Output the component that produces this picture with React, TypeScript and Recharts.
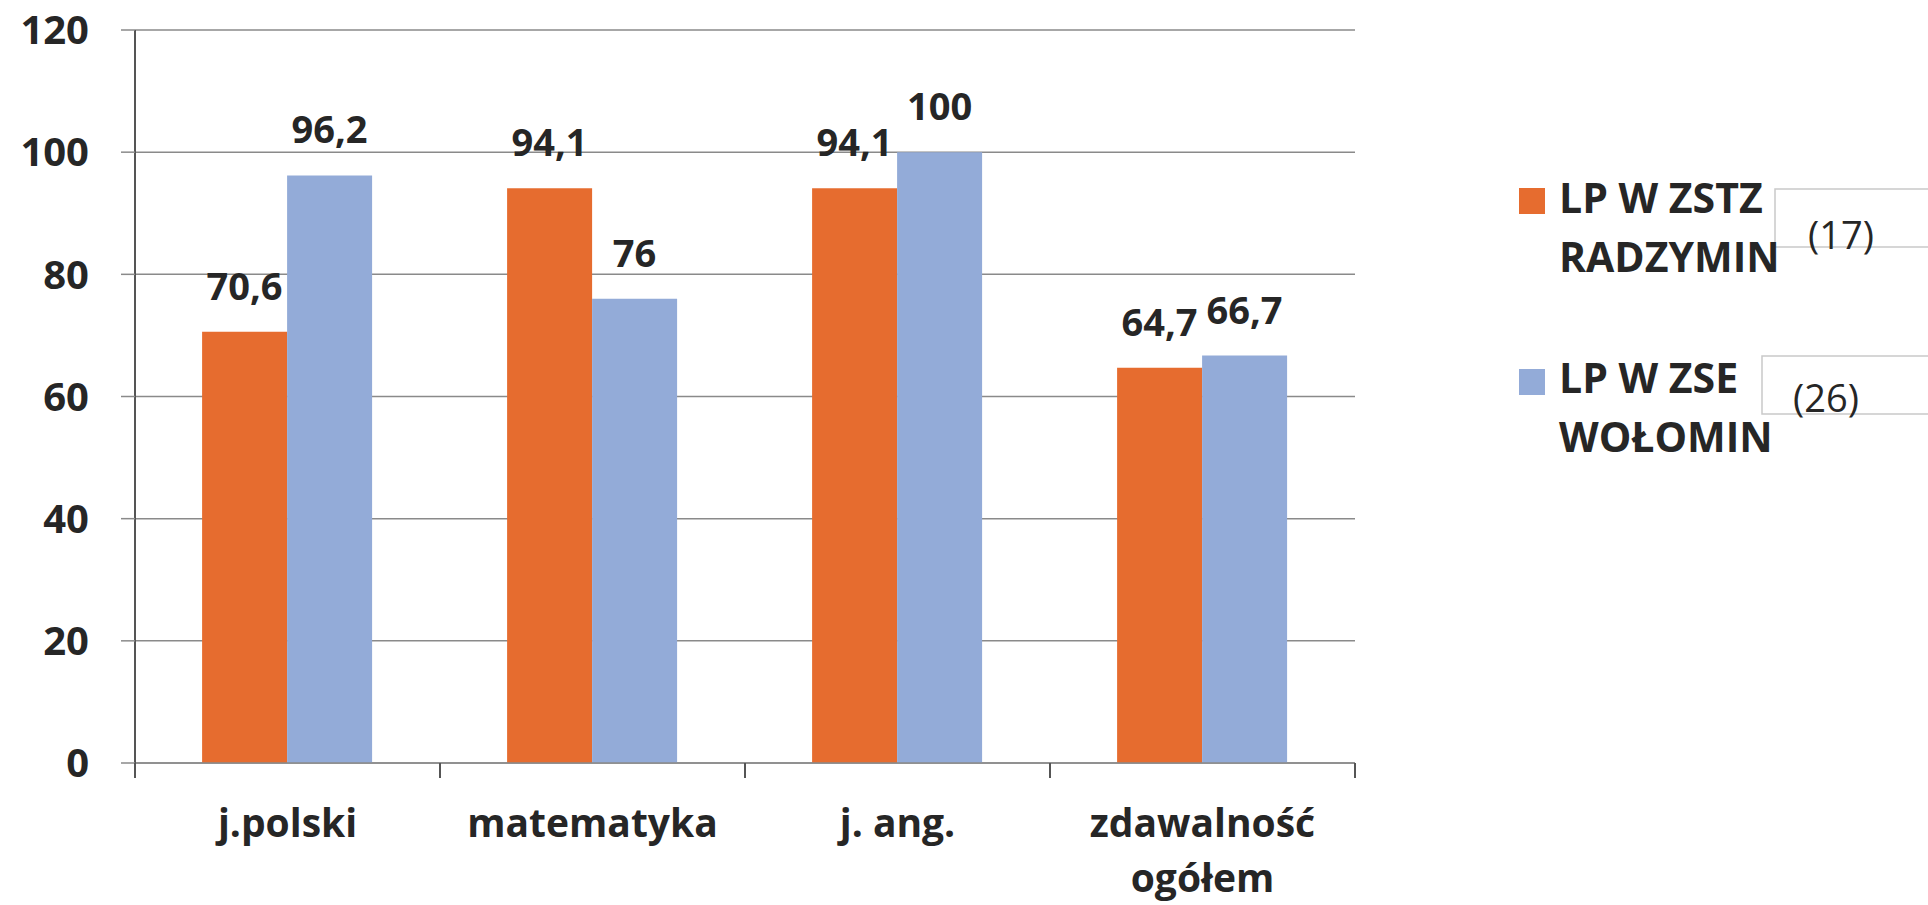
import { BarChart, Bar, XAxis, YAxis, CartesianGrid, LabelList, Legend } from 'recharts'

const CATEGORIES = ['j.polski', 'matematyka', 'j. ang.', 'zdawalność\nogółem']
const RADZYMIN = [70.6, 94.1, 94.1, 64.7]
const WOLOMIN = [96.2, 76, 100, 66.7]
const Y_TICKS = [0, 20, 40, 60, 80, 100, 120]
const SERIES_NAMES = ['LP W ZSTZ\nRADZYMIN', 'LP W ZSE\nWOŁOMIN']
const SERIES_COUNTS = ['(17)', '(26)']

const ORANGE = '#E66C2F'
const BLUE = '#93ABD8'
const TEXT = '#262626'
const FONT = '"Open Sans", sans-serif'

const data = CATEGORIES.map((c, i) => ({ name: c, radzymin: RADZYMIN[i], wolomin: WOLOMIN[i] }))

const fmt = (v: any) => String(v).replace('.', ',')

// category label + the boundary tick marks between categories
function CategoryTick({ x, y, payload, index, visibleTicksCount }: any) {
  const lines = String(payload.value).split('\n')
  const half = payload.offset || 152.5
  const last = index === (visibleTicksCount ?? CATEGORIES.length) - 1
  return (
    <g>
      <line x1={x - half} y1={y} x2={x - half} y2={y + 15} stroke="#555" strokeWidth={2} />
      {last && <line x1={x + half} y1={y} x2={x + half} y2={y + 15} stroke="#555" strokeWidth={2} />}
      <text x={x} y={y + 74} textAnchor="middle" fill={TEXT} fontSize={39} fontWeight={700} fontFamily={FONT}>
        {lines.map((l, i) => (
          <tspan key={i} x={x} dy={i === 0 ? 0 : 55}>{l}</tspan>
        ))}
      </text>
    </g>
  )
}

function LegendBox() {
  const colors = [ORANGE, BLUE]
  const rows = [
    { sq: 188, base: 213, box: { x: 1775, y: 189 }, cnt: { x: 1808, y: 249 } },
    { sq: 369, base: 393, box: { x: 1762, y: 356 }, cnt: { x: 1793, y: 412 } },
  ]
  return (
    <svg width={1928} height={905} style={{ position: 'absolute', left: 0, top: 0 }}>
      {rows.map((r, i) => (
        <g key={i}>
          <rect x={1519} y={r.sq} width={26} height={26} fill={colors[i]} />
          <rect x={r.box.x} y={r.box.y} width={200} height={58} fill="none" stroke="#c9c9c9" strokeWidth={1.5} />
          <text x={1559} y={r.base} fill={TEXT} fontSize={41} fontWeight={700} fontFamily={FONT}>
            {SERIES_NAMES[i].split('\n').map((l, j) => (
              <tspan key={j} x={1559} dy={j === 0 ? 0 : 59}>{l}</tspan>
            ))}
          </text>
          <text x={r.cnt.x} y={r.cnt.y} fill={TEXT} fontSize={38} fontFamily={FONT}>{SERIES_COUNTS[i]}</text>
        </g>
      ))}
    </svg>
  )
}

export default function App() {
  return (
    <div style={{ position: 'absolute', left: 0, top: 0, width: 1928, height: 905, background: '#fff', fontFamily: FONT }}>
      <BarChart
        width={1928}
        height={905}
        data={data}
        margin={{ top: 30, right: 573, left: 0, bottom: 141 }}
        barCategoryGap="22%"
        barGap={0}
      >
        <CartesianGrid stroke="#8a8a8a" strokeWidth={1.5} vertical={false} />
        <XAxis
          dataKey="name"
          interval={0}
          height={1}
          tickSize={0}
          tickMargin={0}
          tickLine={false}
          axisLine={{ stroke: '#8a8a8a', strokeWidth: 1.5 }}
          tick={<CategoryTick />}
        />
        <YAxis
          domain={[0, 120]}
          ticks={Y_TICKS}
          width={135}
          tickSize={14}
          tickMargin={32}
          axisLine={{ stroke: '#555', strokeWidth: 2 }}
          tickLine={{ stroke: '#8a8a8a', strokeWidth: 1.5 }}
          tick={{ fill: TEXT, fontSize: 40, fontWeight: 700, fontFamily: FONT }}
        />
        <Legend layout="vertical" align="center" verticalAlign="middle" wrapperStyle={{ left: 0, top: 0, width: 1928, height: 905 }} content={() => <LegendBox />} />
        <Bar dataKey="radzymin" fill={ORANGE} isAnimationActive={false}>
          <LabelList dataKey="radzymin" position="top" offset={32} formatter={fmt} fill={TEXT} fontSize={38} fontWeight={700} fontFamily={FONT} />
        </Bar>
        <Bar dataKey="wolomin" fill={BLUE} isAnimationActive={false}>
          <LabelList dataKey="wolomin" position="top" offset={32} formatter={fmt} fill={TEXT} fontSize={38} fontWeight={700} fontFamily={FONT} />
        </Bar>
      </BarChart>
    </div>
  )
}
